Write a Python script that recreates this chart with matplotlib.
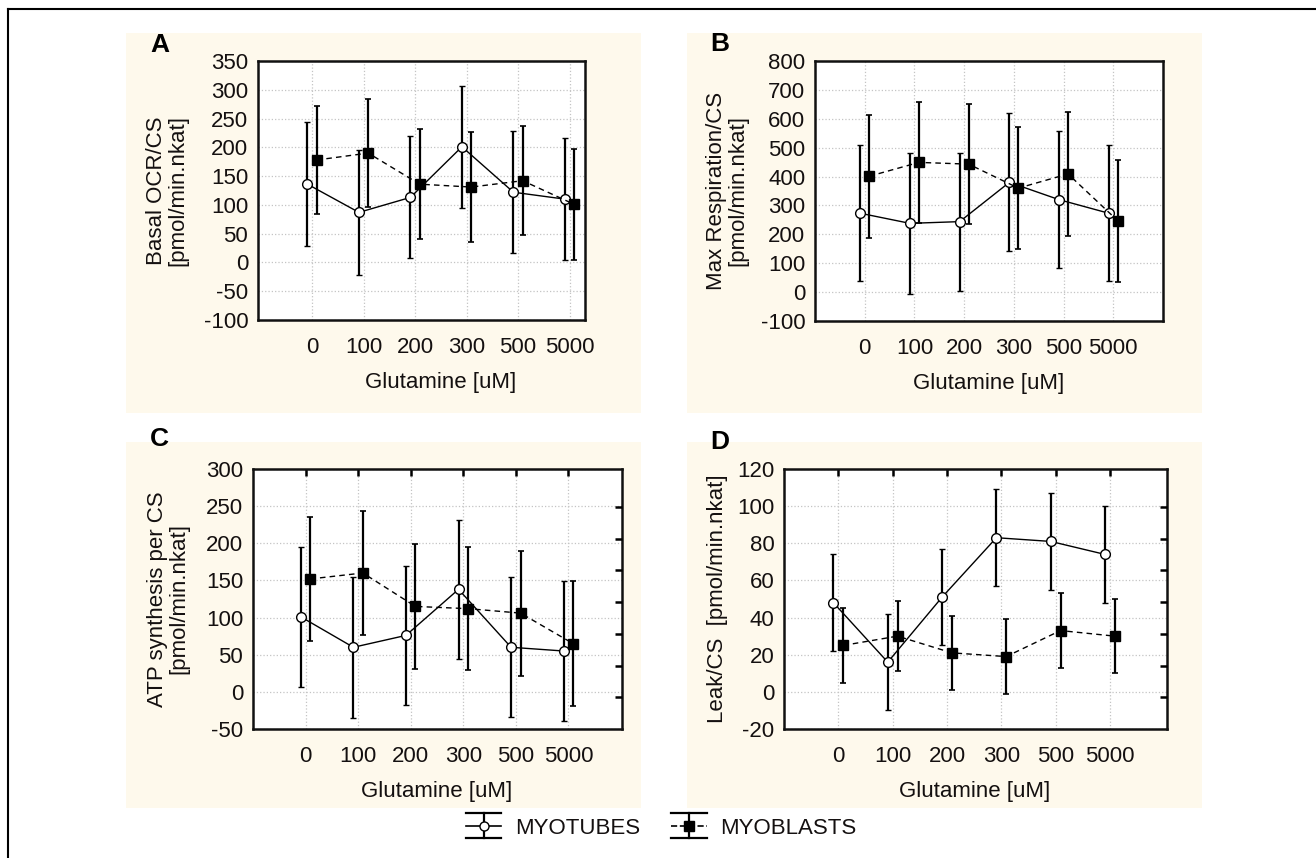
import numpy as np
import matplotlib
matplotlib.use("Agg")
import matplotlib.pyplot as plt
from matplotlib.patches import Rectangle
from matplotlib.lines import Line2D
from matplotlib.legend_handler import HandlerBase

plt.rcParams['font.family'] = ['Liberation Sans', 'DejaVu Sans']
plt.rcParams['axes.unicode_minus'] = False

# ---------------- data ----------------
categories = ['0', '100', '200', '300', '500', '5000']

basal_tubes = [136, 87, 113, 201, 122, 110]
basal_tubes_err = [108, 108, 106, 106, 106, 106]
basal_blasts = [178, 190, 136, 131, 142, 101]
basal_blasts_err = [94, 94, 96, 96, 95, 96]

maxresp_tubes = [273, 238, 244, 380, 320, 273]
maxresp_tubes_err = [236, 244, 239, 239, 237, 236]
maxresp_blasts = [401, 449, 443, 360, 409, 247]
maxresp_blasts_err = [213, 210, 207, 212, 215, 212]

atp_tubes = [101, 60, 76, 138, 60, 55]
atp_tubes_err = [94, 95, 94, 94, 94, 94]
atp_blasts = [152, 160, 115, 112, 106, 65]
atp_blasts_err = [84, 84, 84, 83, 84, 84]

leak_tubes = [48, 16, 51, 83, 81, 74]
leak_tubes_err = [26, 26, 26, 26, 26, 26]
leak_blasts = [25, 30, 21, 19, 33, 30]
leak_blasts_err = [20, 19, 20, 20, 20, 20]

series_names = ['MYOTUBES', 'MYOBLASTS']
xlabel = 'Glutamine [uM]'

TXT = '#141010'
BG = '#fef9ec'
FS = 16

W, H = 1316, 858
fig = plt.figure(figsize=(W / 100, H / 100), dpi=100)

# panel backgrounds (pixel boxes: x0, y0_top, x1, y1_bottom)
for (x0, y0, x1, y1) in [(126, 33, 641, 413), (687, 33, 1202, 413),
                         (126, 442, 641, 808), (687, 442, 1202, 808)]:
    fig.patches.append(Rectangle((x0 / W, 1 - y1 / H), (x1 - x0) / W, (y1 - y0) / H,
                                 transform=fig.transFigure, facecolor=BG,
                                 edgecolor='none', zorder=0))
# outer frame (left & top)
fig.add_artist(Line2D([8 / W, 8 / W], [0, 1 - 8.5 / H], transform=fig.transFigure,
                      color='black', lw=1.5))
fig.add_artist(Line2D([8 / W, 1], [1 - 8.5 / H, 1 - 8.5 / H], transform=fig.transFigure,
                      color='black', lw=1.5))


def px_axes(x0, y0, x1, y1):
    return fig.add_axes([x0 / W, 1 - y1 / H, (x1 - x0) / W, (y1 - y0) / H])


panels = [
    dict(box=(258, 61, 585, 320), xlim=(-1.05, 5.3), ylim=(-100, 350), step=50,
         t=basal_tubes, te=basal_tubes_err, b=basal_blasts, be=basal_blasts_err,
         ylabel='Basal OCR/CS\n[pmol/min.nkat]', ylx=(167 - 258) / 327,
         letter='A', lpos=(160, 45), extra=False),
    dict(box=(815, 61, 1163, 321), xlim=(-1.0, 6.0), ylim=(-100, 800), step=100,
         t=maxresp_tubes, te=maxresp_tubes_err, b=maxresp_blasts, be=maxresp_blasts_err,
         ylabel='Max Respiration/CS\n[pmol/min.nkat]', ylx=(727 - 815) / 348,
         letter='B', lpos=(720, 44), extra=False),
    dict(box=(253, 469, 622, 729), xlim=(-1.0, 6.02), ylim=(-50, 300), step=50,
         t=atp_tubes, te=atp_tubes_err, b=atp_blasts, be=atp_blasts_err,
         ylabel='ATP synthesis per CS\n[pmol/min.nkat]', ylx=(168 - 253) / 369,
         letter='C', lpos=(159, 439), extra=True),
    dict(box=(784, 469, 1167, 729), xlim=(-1.0, 6.05), ylim=(-20, 120), step=20,
         t=leak_tubes, te=leak_tubes_err, b=leak_blasts, be=leak_blasts_err,
         ylabel='Leak/CS  [pmol/min.nkat]', ylx=(718 - 784) / 383,
         letter='D', lpos=(720, 442), extra=True),
]

x = np.arange(len(categories))
off = 0.09

for p in panels:
    ax = px_axes(*p['box'])
    ax.set_facecolor('white')
    ax.set_zorder(2)
    ax.errorbar(x - off, p['t'], yerr=p['te'], color='black', lw=1.0, ls='-',
                marker='o', ms=7, mfc='white', mec='black', mew=1.0,
                ecolor='black', elinewidth=1.6, capsize=2.5, capthick=1.2, zorder=3)
    ax.errorbar(x + off, p['b'], yerr=p['be'], color='black', lw=1.0, ls=(0, (4, 3)),
                marker='s', ms=7.5, mfc='black', mec='black',
                ecolor='black', elinewidth=1.6, capsize=2.5, capthick=1.2, zorder=3)
    ax.set_xlim(*p['xlim'])
    ax.set_ylim(*p['ylim'])
    ax.set_xticks(x)
    ax.set_xticklabels(categories)
    ax.set_yticks(np.arange(p['ylim'][0], p['ylim'][1] + 1, p['step']))
    ax.grid(True, color='#c4c4c4', ls=':', lw=0.9)
    ax.set_axisbelow(True)
    for s in ax.spines.values():
        s.set_linewidth(1.8)
        s.set_color('#111111')
    if p['extra']:
        ax.tick_params(axis='x', bottom=False, top=True, direction='in', length=5,
                       width=1.8, labelsize=FS, labelcolor=TXT, pad=12, labelbottom=True)
        tw = ax.twinx()
        tw.set_ylim(0, 8.2)
        tw.set_yticks(np.arange(1, 8))
        tw.tick_params(axis='y', direction='in', length=5, width=1.8, labelright=False)
        for s in tw.spines.values():
            s.set_visible(False)
    else:
        ax.tick_params(axis='x', length=0, labelsize=FS, labelcolor=TXT, pad=12)
    ax.tick_params(axis='y', length=0, labelsize=FS, labelcolor=TXT, pad=7)
    ax.text(p['ylx'], 0.5, p['ylabel'], transform=ax.transAxes, rotation=90,
            ha='center', va='center', multialignment='center', fontsize=FS,
            color=TXT, linespacing=1.0)
    ax.annotate(xlabel, xy=((len(categories) - 1) / 2, 0),
                xycoords=('data', 'axes fraction'), xytext=(0, -45),
                textcoords='offset points', ha='center', va='center',
                fontsize=FS, color=TXT, annotation_clip=False)
    fig.text(p['lpos'][0] / W, 1 - p['lpos'][1] / H, p['letter'], fontsize=19,
             fontweight='bold', ha='center', va='center', color='black')


class HandlerErr(HandlerBase):
    def create_artists(self, legend, orig, xd, yd, w, h, fs, trans):
        x0, x1 = -xd, -xd + w
        xm = (x0 + x1) / 2
        ym = -yd + h / 2
        half = h * 0.8
        arts = [
            Line2D([x0, x1], [ym, ym], color='black', lw=1.2, ls=orig.get_linestyle()),
            Line2D([xm, xm], [ym - half, ym + half], color='black', lw=1.6),
            Line2D([x0, x1], [ym + half, ym + half], color='black', lw=1.6),
            Line2D([x0, x1], [ym - half, ym - half], color='black', lw=1.6),
            Line2D([xm], [ym], marker=orig.get_marker(), ms=orig.get_markersize(),
                   mfc=orig.get_markerfacecolor(), mec='black', ls='none'),
        ]
        for a in arts:
            a.set_transform(trans)
        return arts


h1 = Line2D([], [], color='black', ls='-', marker='o', ms=6.5, mfc='white')
h2 = Line2D([], [], color='black', ls=(0, (2.5, 2.5)), marker='s', ms=6.5, mfc='black')
fig.legend([h1, h2], series_names, loc='center', bbox_to_anchor=(661 / W, 1 - 828 / H),
           ncol=2, frameon=False, fontsize=FS, handlelength=1.6, handleheight=0.7,
           handletextpad=0.6, columnspacing=1.4,
           handler_map={h1: HandlerErr(), h2: HandlerErr()}, labelcolor=TXT)

fig.savefig('out.png', dpi=100)
